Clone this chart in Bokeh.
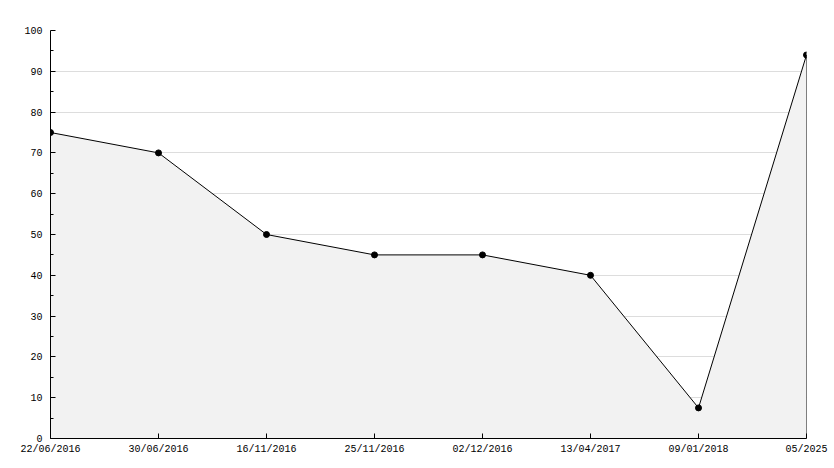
from bokeh.plotting import figure
from bokeh.models import Range1d, FixedTicker
from bokeh.embed import file_html
from bokeh.resources import INLINE

dates = ["22/06/2016", "30/06/2016", "16/11/2016", "25/11/2016",
         "02/12/2016", "13/04/2017", "09/01/2018", "05/2025"]
values = [75, 70, 50, 45, 45, 40, 7.5, 94]
y_ticks = list(range(0, 101, 10))

xs = list(range(len(dates)))

p = figure(width=834, height=468, output_backend="svg", toolbar_location=None,
           x_range=Range1d(0, len(dates) - 1), y_range=Range1d(0, 100),
           min_border_left=50, min_border_right=28, min_border_top=30, min_border_bottom=30)
p.outline_line_color = None
p.background_fill_color = "white"
p.border_fill_color = "white"

# area
px = [xs[0]] + xs + [xs[-1]]
py = [0] + values + [0]
p.patch(px, py, fill_color="#f2f2f2", line_color=None)
p.segment(x0=[xs[-1]], y0=[0], x1=[xs[-1]], y1=[values[-1]], line_color="black", line_width=1)
p.line(xs, values, line_color="black", line_width=1)
p.scatter(xs, values, marker="circle", size=6, fill_color="black", line_color="black")

font = "Liberation Mono"

p.xgrid.visible = False
p.ygrid.grid_line_color = "#dddddd"
p.ygrid.grid_line_width = 1

p.yaxis.ticker = FixedTicker(ticks=y_ticks, minor_ticks=[v + 5 for v in y_ticks[:-1]])
p.yaxis.major_tick_in = 5
p.yaxis.major_tick_out = 0
p.yaxis.minor_tick_in = 3
p.yaxis.minor_tick_out = 0
p.yaxis.axis_line_color = "black"
p.yaxis.major_label_text_font = font
p.yaxis.major_label_text_font_size = "10px"
p.yaxis.major_label_text_color = "black"
p.yaxis.major_label_standoff = 8

p.xaxis.ticker = FixedTicker(ticks=xs)
p.xaxis.major_label_overrides = {i: d for i, d in enumerate(dates)}
p.xaxis.major_tick_in = 5
p.xaxis.major_tick_out = 0
p.xaxis.minor_tick_line_color = None
p.xaxis.axis_line_color = "black"
p.xaxis.major_label_text_font = font
p.xaxis.major_label_text_font_size = "10px"
p.xaxis.major_label_text_color = "black"
p.xaxis.major_label_standoff = 5

open("out.html", "w").write(file_html(p, INLINE))
